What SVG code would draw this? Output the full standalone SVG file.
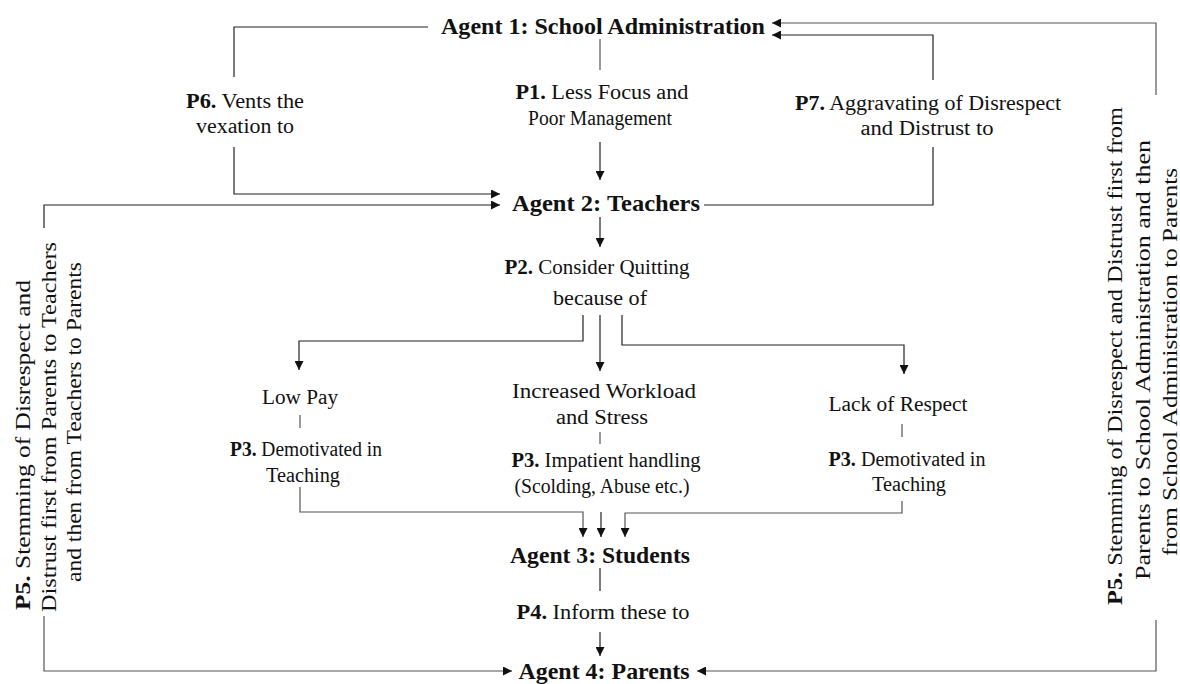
<svg xmlns="http://www.w3.org/2000/svg" width="1180" height="684" viewBox="0 0 1180 684">
<defs>
<marker id="ah" viewBox="0 0 10 10" refX="10" refY="5" markerWidth="10" markerHeight="9" markerUnits="userSpaceOnUse" orient="auto">
<path d="M0,0 L10,5 L0,10 Z" fill="#111"/>
</marker>
<style>
.t{font-family:"Liberation Serif","Times New Roman",serif;fill:#111;}
.h{font-size:23px;font-weight:bold;text-anchor:middle;}
.l{font-size:20px;text-anchor:middle;}
.b{font-weight:bold;}
.c line,.c polyline{stroke:#222;stroke-width:1.2;fill:none;}
.c .a{marker-end:url(#ah);}
.c .g{stroke:#555;}
</style>
</defs>
<rect width="1180" height="684" fill="#fff"/>
<g class="c" id="connectors">
<polyline points="428,27 234,27 234,77"/>
<polyline class="a" points="234,147 234,194 500,194"/>
<line x1="600" y1="39" x2="600" y2="70" class="g"/>
<line class="a" x1="600" y1="142" x2="600" y2="180"/>
<polyline points="704,205 933,205 933,147"/>
<polyline class="a" points="933,80 933,35 772,35"/>
<polyline class="a g" points="1156,95 1156,23 772,23"/>
<polyline class="a g" points="1156,620 1156,671 697,671"/>
<polyline class="a" points="44,228 44,205 500,205"/>
<polyline class="a g" points="44,616 44,671 512,671"/>
<line class="a" x1="600" y1="217" x2="600" y2="247"/>
<polyline class="a" points="583,315 583,341 299,341 299,370"/>
<line class="a" x1="600" y1="315" x2="600" y2="371"/>
<polyline class="a" points="622,315 622,345 904,345 904,374"/>
<line x1="300" y1="415" x2="300" y2="428" class="g"/>
<line x1="600" y1="432" x2="600" y2="444" class="g"/>
<line x1="902" y1="424" x2="902" y2="437" class="g"/>
<polyline class="a g" points="300,487 300,512 583,512 583,537"/>
<line class="a" x1="601" y1="512" x2="601" y2="537"/>
<polyline class="a g" points="902,501 902,513 625,513 625,537"/>
<line x1="600" y1="568" x2="600" y2="591"/>
<line class="a" x1="600" y1="632" x2="600" y2="656"/>
</g>
<g id="agent1"><text class="t h" x="603" y="34" textLength="324" lengthAdjust="spacingAndGlyphs">Agent 1: School Administration</text></g>
<g id="agent2"><text class="t h" x="606" y="211" textLength="188" lengthAdjust="spacingAndGlyphs">Agent 2: Teachers</text></g>
<g id="agent3"><text class="t h" x="600" y="563" textLength="180" lengthAdjust="spacingAndGlyphs">Agent 3: Students</text></g>
<g id="agent4"><text class="t h" x="604" y="679" textLength="171" lengthAdjust="spacingAndGlyphs">Agent 4: Parents</text></g>
<g id="p6"><text class="t l" x="245" y="108" textLength="118" lengthAdjust="spacingAndGlyphs"><tspan class="b">P6.</tspan> Vents the</text><text class="t l" x="245" y="133" textLength="98" lengthAdjust="spacingAndGlyphs">vexation to</text></g>
<g id="p1"><text class="t l" x="602" y="99" textLength="173" lengthAdjust="spacingAndGlyphs"><tspan class="b">P1.</tspan> Less Focus and</text><text class="t l" x="600" y="125" textLength="144" lengthAdjust="spacingAndGlyphs">Poor Management</text></g>
<g id="p7"><text class="t l" x="928" y="110" textLength="266" lengthAdjust="spacingAndGlyphs"><tspan class="b">P7.</tspan> Aggravating of Disrespect</text><text class="t l" x="927" y="135" textLength="133" lengthAdjust="spacingAndGlyphs">and Distrust to</text></g>
<g id="p2"><text class="t l" x="597" y="274" textLength="185" lengthAdjust="spacingAndGlyphs"><tspan class="b">P2.</tspan> Consider Quitting</text><text class="t l" x="600" y="305" textLength="94" lengthAdjust="spacingAndGlyphs">because of</text></g>
<g id="lowpay"><text class="t l" x="300" y="404" textLength="76" lengthAdjust="spacingAndGlyphs">Low Pay</text><text class="t l" x="306" y="456" textLength="152" lengthAdjust="spacingAndGlyphs"><tspan class="b">P3.</tspan> Demotivated in</text><text class="t l" x="303" y="482" textLength="74" lengthAdjust="spacingAndGlyphs">Teaching</text></g>
<g id="workload"><text class="t l" x="604" y="398" textLength="184" lengthAdjust="spacingAndGlyphs">Increased Workload</text><text class="t l" x="602" y="424" textLength="92" lengthAdjust="spacingAndGlyphs">and Stress</text><text class="t l" x="606" y="467" textLength="189" lengthAdjust="spacingAndGlyphs"><tspan class="b">P3.</tspan> Impatient handling</text><text class="t l" x="602" y="493" textLength="175" lengthAdjust="spacingAndGlyphs">(Scolding, Abuse etc.)</text></g>
<g id="respect"><text class="t l" x="898" y="411" textLength="139" lengthAdjust="spacingAndGlyphs">Lack of Respect</text><text class="t l" x="907" y="466" textLength="157" lengthAdjust="spacingAndGlyphs"><tspan class="b">P3.</tspan> Demotivated in</text><text class="t l" x="909" y="491" textLength="74" lengthAdjust="spacingAndGlyphs">Teaching</text></g>
<g id="p4"><text class="t l" x="603" y="619" textLength="173" lengthAdjust="spacingAndGlyphs"><tspan class="b">P4.</tspan> Inform these to</text></g>
<g id="p5left" transform="rotate(-90)">
<text class="t l" x="-445" y="30" textLength="330" lengthAdjust="spacingAndGlyphs"><tspan class="b">P5.</tspan> Stemming of Disrespect and</text>
<text class="t l" x="-427" y="56" textLength="370" lengthAdjust="spacingAndGlyphs">Distrust first from Parents to Teachers</text>
<text class="t l" x="-422" y="81" textLength="320" lengthAdjust="spacingAndGlyphs">and then from Teachers to Parents</text>
</g>
<g id="p5right" transform="rotate(-90)">
<text class="t l" x="-356" y="1122" textLength="498" lengthAdjust="spacingAndGlyphs"><tspan class="b">P5.</tspan> Stemming of Disrespect and Distrust first from</text>
<text class="t l" x="-360" y="1150" textLength="440" lengthAdjust="spacingAndGlyphs">Parents to School Administration and then</text>
<text class="t l" x="-362" y="1177" textLength="388" lengthAdjust="spacingAndGlyphs">from School Administration to Parents</text>
</g>
</svg>
